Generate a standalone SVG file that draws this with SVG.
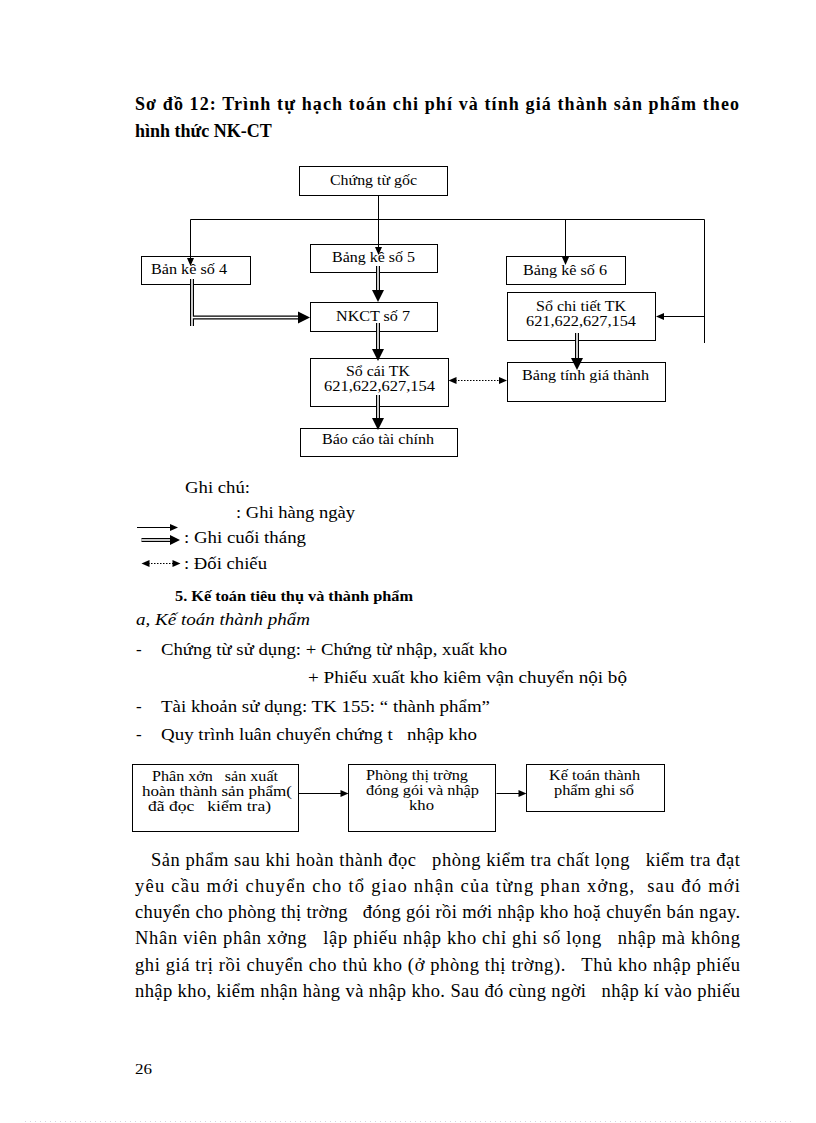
<svg xmlns="http://www.w3.org/2000/svg" xmlns:xlink="http://www.w3.org/1999/xlink" width="816" height="1123" viewBox="0 0 816 1123">
<style>
text{font-family:"Liberation Serif","Times New Roman",serif;fill:#000}
.bx{font-size:15px}
.sm{font-size:14px}
.body{font-size:17px}
.para{font-size:18.5px}
.ttl{font-size:18px;font-weight:bold}
rect{fill:#fff;stroke:#000;stroke-width:1}
.ln{fill:none;stroke:#000;stroke-width:1}
.dot{fill:none;stroke:#000;stroke-width:1;stroke-dasharray:1.5,1.5}
.dO{fill:none;stroke:#000;stroke-width:4}
.dI{fill:none;stroke:#fff;stroke-width:1.6}
</style>
<defs>
<path id="hd" d="M0,0 L-12,-6 L-12,6 z" fill="#000"/>
<path id="hl" d="M0,0 L-10,-5 L-10,5 z" fill="#000"/>
<path id="sh" d="M0,0 L-8,-3.5 L-8,3.5 z" fill="#000"/>
</defs>
<rect x="0" y="0" width="816" height="1123" style="fill:#fff;stroke:none"/>

<g id="title">
<text class="ttl" x="135" y="110" textLength="604" lengthAdjust="spacing">Sơ đồ 12: Trình tự hạch toán chi phí và tính giá thành sản phẩm theo</text>
<text class="ttl" x="135" y="137">hình thức NK-CT</text>
</g>

<g id="n-chungtugoc"><rect x="299.5" y="166.5" width="148" height="29"/><text class="bx" x="330" y="185" textLength="87" lengthAdjust="spacingAndGlyphs">Chứng từ gốc</text></g>
<g id="n-banke4"><rect x="141.5" y="256.5" width="109" height="28"/><text class="bx" x="151" y="274" textLength="76" lengthAdjust="spacingAndGlyphs">Bản kê số 4</text></g>
<g id="n-bangke5"><rect x="310.5" y="244.5" width="127" height="28"/><text class="bx" x="332" y="262" textLength="83" lengthAdjust="spacingAndGlyphs">Bảng kê số 5</text></g>
<g id="n-bangke6"><rect x="506.5" y="256.5" width="119" height="28"/><text class="bx" x="523" y="275" textLength="84" lengthAdjust="spacingAndGlyphs">Bảng kê số 6</text></g>
<g id="n-nkct7"><rect x="310.5" y="302.5" width="127" height="29"/><text class="bx" x="336" y="321" textLength="74" lengthAdjust="spacingAndGlyphs">NKCT số 7</text></g>
<g id="n-sochitiet"><rect x="507.5" y="292.5" width="148" height="48"/><text class="bx" x="536" y="311" textLength="90" lengthAdjust="spacingAndGlyphs">Sổ chi tiết TK</text><text class="bx" x="526" y="326" textLength="110" lengthAdjust="spacingAndGlyphs">621,622,627,154</text></g>
<g id="n-socai"><rect x="310.5" y="358.5" width="138" height="48"/><text class="bx" x="346" y="376" textLength="64" lengthAdjust="spacingAndGlyphs">Sổ cái TK</text><text class="bx" x="324" y="391" textLength="111" lengthAdjust="spacingAndGlyphs">621,622,627,154</text></g>
<g id="n-bangtinh"><rect x="507.5" y="362.5" width="158" height="39"/><text class="bx" x="522" y="380" textLength="127" lengthAdjust="spacingAndGlyphs">Bảng tính giá thành</text></g>
<g id="n-baocao"><rect x="300.5" y="428.5" width="157" height="28"/><text class="bx" x="322" y="444" textLength="112" lengthAdjust="spacingAndGlyphs">Báo cáo tài chính</text></g>

<g id="connectors">
<path class="ln" d="M378.5,195.5 V248"/><use xlink:href="#sh" transform="translate(378.5,255) rotate(90)"/>
<path class="ln" d="M190.5,219.5 H704.5"/>
<path class="ln" d="M190.5,219.5 V259"/><use xlink:href="#sh" transform="translate(190.5,266) rotate(90)"/>
<path class="ln" d="M565.5,219.5 V258"/><use xlink:href="#sh" transform="translate(565.5,265) rotate(90)"/>
<path class="ln" d="M704.5,219.5 V343"/>
<path class="ln" d="M704.5,316.5 H663"/><use xlink:href="#sh" transform="translate(656,316.5) rotate(180)"/>

<path class="dO" d="M378,266 V291 M378,323 V350 M378,395 V419 M577,333 V359 M192,279 V326 M192,317.5 H299"/>
<path class="dI" d="M378,266 V291 M378,323 V350 M378,395 V419 M577,333 V359 M192,279 V326 M192,317.5 H299"/>
<use xlink:href="#hd" transform="translate(378,302) rotate(90)"/>
<use xlink:href="#hd" transform="translate(378,361) rotate(90)"/>
<use xlink:href="#hd" transform="translate(378,430) rotate(90)"/>
<use xlink:href="#hd" transform="translate(577,370) rotate(90)"/>
<use xlink:href="#hd" transform="translate(310,317.5)"/>

<path class="dot" d="M455,380.5 H500"/>
<use xlink:href="#sh" transform="translate(448.5,380.5) rotate(180)"/>
<use xlink:href="#sh" transform="translate(507,380.5)"/>

<path class="ln" d="M298.5,793.5 H341"/><use xlink:href="#sh" transform="translate(348.5,793.5)"/>
<path class="ln" d="M496.5,793.5 H519"/><use xlink:href="#sh" transform="translate(526.5,793.5)"/>
</g>

<g id="legend">
<text class="body" x="185" y="493" textLength="65" lengthAdjust="spacingAndGlyphs">Ghi chú:</text>
<text class="body" x="236" y="518" textLength="119" lengthAdjust="spacingAndGlyphs">: Ghi hàng ngày</text>
<path class="ln" d="M137,527.5 H171"/><use xlink:href="#sh" transform="translate(178,527.5)"/>
<path class="dO" d="M141.5,540 H171"/><path class="dI" d="M141.5,540 H171"/><use xlink:href="#hl" transform="translate(180,540)"/>
<text class="body" x="184" y="543" textLength="122" lengthAdjust="spacingAndGlyphs">: Ghi cuối tháng</text>
<path class="dot" d="M148,563.5 H174"/><use xlink:href="#sh" transform="translate(141.5,563.5) rotate(180)"/><use xlink:href="#sh" transform="translate(180.5,563.5)"/>
<text class="body" x="184" y="569" textLength="83" lengthAdjust="spacingAndGlyphs">: Đối chiếu</text>
</g>

<g id="section">
<text x="175" y="601" style="font-size:14px;font-weight:bold" textLength="238" lengthAdjust="spacingAndGlyphs">5. Kế toán tiêu thụ và thành phẩm</text>
<text class="body" x="136" y="625" style="font-style:italic" textLength="174" lengthAdjust="spacingAndGlyphs">a, Kế toán thành phẩm</text>
<text class="body" x="136" y="655">-</text>
<text class="body" x="161" y="655" textLength="346" lengthAdjust="spacingAndGlyphs">Chứng từ sử dụng: + Chứng từ nhập, xuất kho</text>
<text class="body" x="308" y="683" textLength="319" lengthAdjust="spacingAndGlyphs">+ Phiếu xuất kho kiêm vận chuyển nội bộ</text>
<text class="body" x="136" y="712">-</text>
<text class="body" x="161" y="712" textLength="329" lengthAdjust="spacingAndGlyphs">Tài khoản sử dụng: TK 155: “ thành phẩm”</text>
<text class="body" x="136" y="740">-</text>
<text class="body" x="161" y="740" textLength="316" lengthAdjust="spacingAndGlyphs" xml:space="preserve">Quy trình luân chuyển chứng t   nhập kho</text>
</g>

<g id="n-phanxuong"><rect x="132.5" y="764.5" width="166" height="67"/>
<text class="sm" x="152" y="781" textLength="126" lengthAdjust="spacingAndGlyphs" xml:space="preserve">Phân xởn   sản xuất</text>
<text class="sm" x="142" y="796" textLength="150" lengthAdjust="spacingAndGlyphs">hoàn thành sản phẩm(</text>
<text class="sm" x="148" y="811" textLength="123" lengthAdjust="spacingAndGlyphs" xml:space="preserve">đã đọc   kiểm tra)</text></g>
<g id="n-phongthitruong"><rect x="348.5" y="764.5" width="147" height="67"/>
<text class="sm" x="366" y="780" textLength="102" lengthAdjust="spacingAndGlyphs">Phòng thị trờng</text>
<text class="sm" x="366" y="795" textLength="113" lengthAdjust="spacingAndGlyphs">đóng gói và nhập</text>
<text class="sm" x="409" y="810" textLength="25" lengthAdjust="spacingAndGlyphs">kho</text></g>
<g id="n-ketoan"><rect x="526.5" y="764.5" width="138" height="47"/>
<text class="sm" x="549" y="780" textLength="91" lengthAdjust="spacingAndGlyphs">Kế toán thành</text>
<text class="sm" x="554" y="795" textLength="80" lengthAdjust="spacingAndGlyphs">phẩm ghi sổ</text></g>

<g id="paragraph">
<text class="para" x="151" y="866" textLength="589" lengthAdjust="spacing" xml:space="preserve">Sản phẩm sau khi hoàn thành đọc   phòng kiểm tra chất lọng   kiểm tra đạt</text>
<text class="para" x="135" y="892" textLength="605" lengthAdjust="spacing" xml:space="preserve">yêu cầu mới chuyển cho tổ giao nhận của từng phan xởng,  sau đó mới</text>
<text class="para" x="135" y="918" textLength="605" lengthAdjust="spacing" xml:space="preserve">chuyển cho phòng thị trờng   đóng gói rồi mới nhập kho hoặ chuyển bán ngay.</text>
<text class="para" x="135" y="944" textLength="605" lengthAdjust="spacing" xml:space="preserve">Nhân viên phân xởng   lập phiếu nhập kho chỉ ghi số lọng   nhập mà không</text>
<text class="para" x="135" y="971" textLength="605" lengthAdjust="spacing" xml:space="preserve">ghi giá trị rồi chuyển cho thủ kho (ở phòng thị trờng).   Thủ kho nhập phiếu</text>
<text class="para" x="135" y="997" textLength="605" lengthAdjust="spacing" xml:space="preserve">nhập kho, kiểm nhận hàng và nhập kho. Sau đó cùng ngời   nhập kí vào phiếu</text>
</g>

<g id="footer">
<text x="135" y="1074" style="font-size:14px" textLength="17" lengthAdjust="spacingAndGlyphs">26</text>
<path d="M25,1121.5 H792" style="fill:none;stroke:#d8d0e0;stroke-width:1;stroke-dasharray:1,4"/>
</g>
</svg>
